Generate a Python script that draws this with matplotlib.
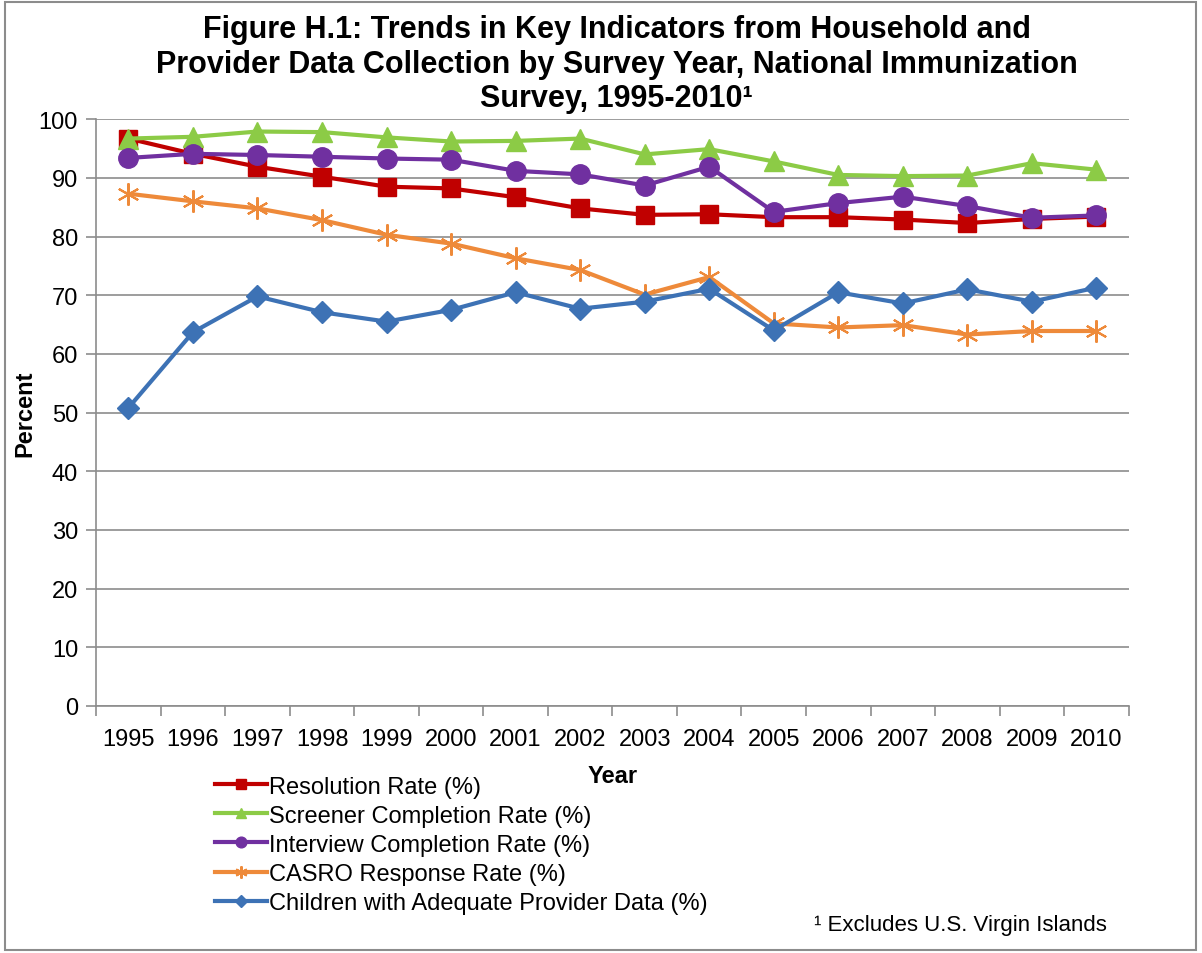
import matplotlib
matplotlib.use("Agg")
import matplotlib.pyplot as plt
from matplotlib.patches import Rectangle

years = [str(y) for y in range(1995, 2011)]

resolution = [96.7, 94.1, 91.9, 90.2, 88.5, 88.2, 86.7, 84.8, 83.7, 83.8, 83.3, 83.3, 82.9, 82.3, 83.0, 83.4]
screener   = [96.7, 97.0, 97.9, 97.8, 96.9, 96.2, 96.3, 96.7, 94.0, 94.9, 92.8, 90.5, 90.3, 90.4, 92.5, 91.4]
interview  = [93.4, 94.1, 93.9, 93.6, 93.3, 93.1, 91.2, 90.6, 88.7, 91.9, 84.2, 85.7, 86.8, 85.2, 83.2, 83.6]
casro      = [87.3, 86.0, 84.8, 82.8, 80.3, 78.8, 76.3, 74.3, 70.1, 73.1, 65.2, 64.5, 64.9, 63.3, 63.9, 63.9]
provider   = [50.8, 63.7, 69.8, 67.1, 65.5, 67.5, 70.5, 67.7, 68.9, 71.1, 64.0, 70.5, 68.6, 71.0, 68.9, 71.3]

labels = ["Resolution Rate (%)", "Screener Completion Rate (%)",
          "Interview Completion Rate (%)", "CASRO Response Rate (%)",
          "Children with Adequate Provider Data (%)"]

title = ("Figure H.1: Trends in Key Indicators from Household and\n"
         "Provider Data Collection by Survey Year, National Immunization\n"
         "Survey, 1995-2010\u00b9")

plt.rcParams['font.family'] = ['Liberation Sans', 'DejaVu Sans']

fig = plt.figure(figsize=(12.02, 9.54), dpi=100)
fig.patch.set_facecolor('white')
fig.add_artist(Rectangle((0.004, 0.003), 0.991, 0.994, transform=fig.transFigure,
                         fill=False, edgecolor='#8c8c8c', linewidth=1.5))

ax = fig.add_axes([0.080, 0.259, 0.859, 0.615])
x = list(range(len(years)))

styles = [
    dict(color='#C00000', marker='s', markersize=13, mfc='#C00000', mec='#C00000'),
    dict(color='#8CCB46', marker='^', markersize=14, mfc='#8CCB46', mec='#8CCB46'),
    dict(color='#7030A0', marker='o', markersize=14, mfc='#7030A0', mec='#7030A0'),
    dict(color='#EE8A3A', marker=(6, 2, 0), markersize=16, mfc='none', mec='#EE8A3A', mew=1.5),
    dict(color='#3D72B5', marker='D', markersize=11, mfc='#3D72B5', mec='#3D72B5'),
]
series = [resolution, screener, interview, casro, provider]
for i, (s, st, lab) in enumerate(zip(series, styles, labels)):
    ax.plot(x, s, linewidth=3, label=lab, zorder=3 + i, **st)

ax.set_xlim(-0.5, len(years) - 0.5)
ax.set_ylim(0, 100)
ax.set_yticks(range(0, 101, 10))
ax.yaxis.grid(True, color='#8c8c8c', linewidth=1.2)
ax.set_axisbelow(True)
ax.set_xticks(x)
ax.set_xticklabels(years)
ax.set_xticks([i - 0.5 for i in range(len(years) + 1)], minor=True)
ax.tick_params(axis='x', which='major', length=0, pad=16, labelsize=17)
ax.tick_params(axis='x', which='minor', length=7, color='#8c8c8c', width=1.2)
ax.tick_params(axis='y', length=7, color='#8c8c8c', width=1.2, labelsize=17, pad=6)
for side in ['top', 'right']:
    ax.spines[side].set_visible(False)
for side in ['left', 'bottom']:
    ax.spines[side].set_color('#8c8c8c')
    ax.spines[side].set_linewidth(1.2)

ax.set_ylabel("Percent", fontsize=17, fontweight='bold', labelpad=2)
ax.set_xlabel("Year", fontsize=17, fontweight='bold', labelpad=10)

fig.text(0.513, 0.984, title, ha='center', va='top', fontsize=22, fontweight='bold',
         linespacing=1.2)

leg_handles = []
for st, lab in zip(styles, labels):
    st2 = dict(st)
    st2['markersize'] = st['markersize'] * 0.55
    h, = ax.plot([], [], linewidth=3, label=lab, **st2)
    leg_handles.append(h)
fig.legend(handles=leg_handles, labels=labels, loc='upper left',
           bbox_to_anchor=(0.179, 0.186), frameon=False, fontsize=17,
           handlelength=2.2, handletextpad=0.1, labelspacing=0.3,
           borderaxespad=0, borderpad=0)

fig.text(0.921, 0.030, "\u00b9 Excludes U.S. Virgin Islands", ha='right', va='center', fontsize=16)

fig.savefig("out.png", dpi=100, facecolor='white')
